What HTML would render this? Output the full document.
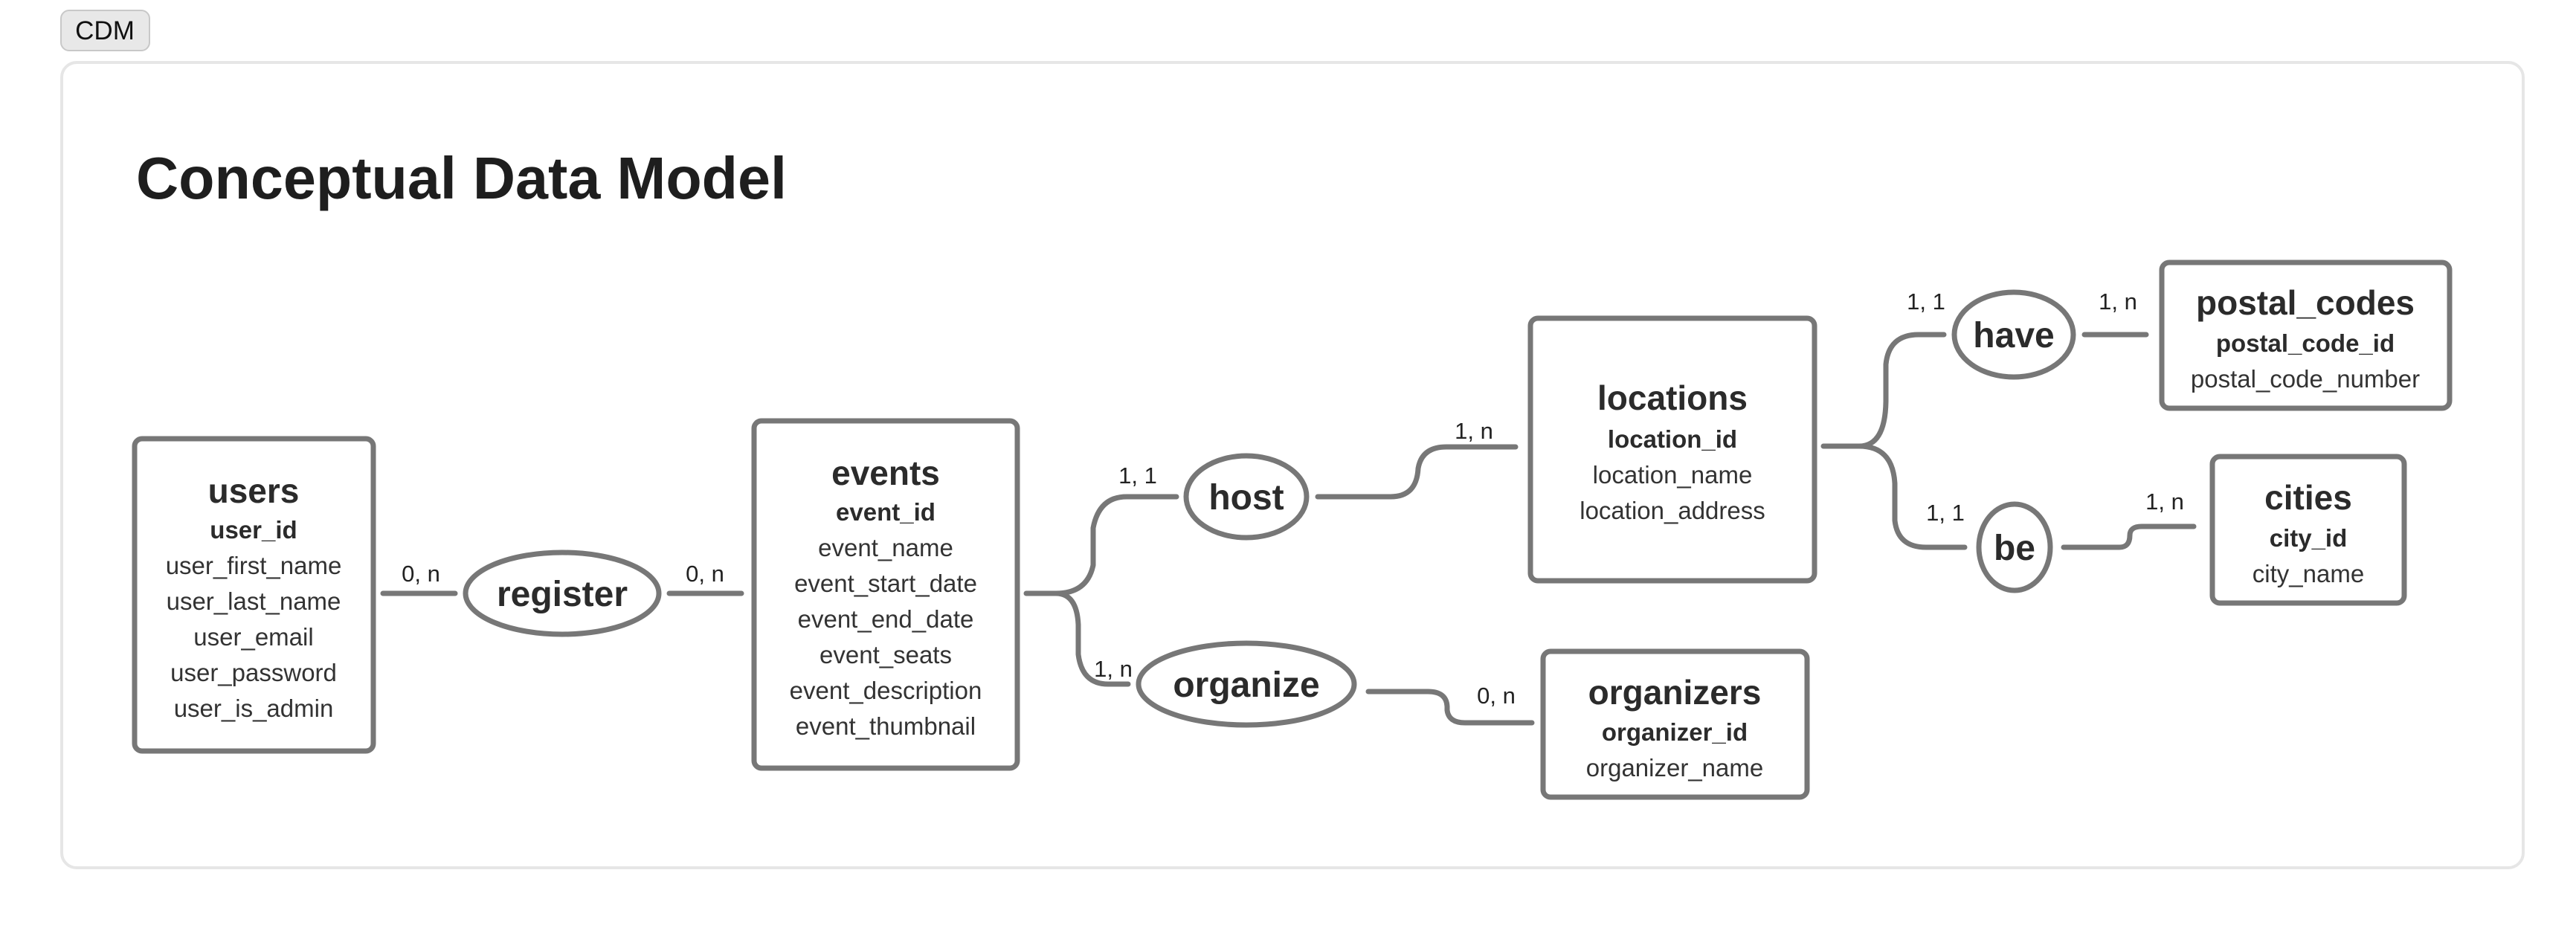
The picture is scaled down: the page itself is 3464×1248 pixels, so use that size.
<!DOCTYPE html>
<html><head><meta charset="utf-8"><style>
html,body{margin:0;padding:0;background:#fff;width:3464px;height:1248px;overflow:hidden}
svg{display:block}
text{font-family:"Liberation Sans",sans-serif;fill:#2b2b2b}
.t{font-weight:bold;font-size:46px}
.k{font-weight:bold;font-size:33px}
.a{font-size:33px;fill:#333}
.r{font-weight:bold;font-size:48px}
.c{font-size:31px;fill:#222}
.box{fill:#fff;stroke:#777;stroke-width:7}
.ln{fill:none;stroke:#777;stroke-width:7;stroke-linecap:round;stroke-linejoin:round}
</style></head><body>
<svg width="3464" height="1248" viewBox="0 0 3464 1248" xmlns="http://www.w3.org/2000/svg">
<rect x="82" y="14" width="119" height="54" rx="11" fill="#e8e8e8" stroke="#c8c8c8" stroke-width="2"/>
<text x="141" y="53" text-anchor="middle" style="font-size:35px;fill:#111">CDM</text>
<rect x="83" y="84" width="3310" height="1083" rx="20" fill="#fff" stroke="#e6e6e6" stroke-width="4"/>
<text x="183" y="267" textLength="875" lengthAdjust="spacingAndGlyphs" style="font-weight:bold;font-size:80px;fill:#1e1e1e">Conceptual Data Model</text>

<!-- connectors -->
<path class="ln" d="M515,798 H612"/>
<path class="ln" d="M900,798 H997"/>
<path class="ln" d="M1380,798 H1420 Q1462,798 1470,760 V710 Q1478,668 1515,668 H1582"/>
<path class="ln" d="M1420,798 Q1448,798 1450,840 V880 Q1455,920 1490,920 H1517"/>
<path class="ln" d="M1772,668 H1870 Q1905,668 1907,630 Q1912,601 1945,601 H2038"/>
<path class="ln" d="M1840,930 H1920 Q1945,930 1946,950 V955 Q1948,972 1970,972 H2060"/>
<path class="ln" d="M2452,600 H2500 Q2535,600 2536,540 V490 Q2540,450 2580,450 H2614"/>
<path class="ln" d="M2500,600 Q2545,600 2548,650 V700 Q2552,736 2590,736 H2642"/>
<path class="ln" d="M2803,450 H2886"/>
<path class="ln" d="M2775,736 H2850 Q2864,736 2864,720 Q2864,708 2880,708 H2950"/>

<!-- cardinalities -->
<text class="c" x="566" y="782" text-anchor="middle">0, n</text>
<text class="c" x="948" y="782" text-anchor="middle">0, n</text>
<text class="c" x="1530" y="650" text-anchor="middle">1, 1</text>
<text class="c" x="1497" y="910" text-anchor="middle">1, n</text>
<text class="c" x="1982" y="590" text-anchor="middle">1, n</text>
<text class="c" x="2012" y="946" text-anchor="middle">0, n</text>
<text class="c" x="2590" y="416" text-anchor="middle">1, 1</text>
<text class="c" x="2848" y="416" text-anchor="middle">1, n</text>
<text class="c" x="2616" y="700" text-anchor="middle">1, 1</text>
<text class="c" x="2911" y="685" text-anchor="middle">1, n</text>

<!-- relationships -->
<ellipse class="box" cx="756" cy="798" rx="130" ry="55"/>
<text class="r" x="756" y="815" text-anchor="middle">register</text>
<ellipse class="box" cx="1676" cy="668" rx="81" ry="55"/>
<text class="r" x="1676" y="685" text-anchor="middle">host</text>
<ellipse class="box" cx="1676" cy="920" rx="145" ry="55"/>
<text class="r" x="1676" y="937" text-anchor="middle">organize</text>
<ellipse class="box" cx="2708" cy="450" rx="80" ry="57"/>
<text class="r" x="2708" y="467" text-anchor="middle">have</text>
<ellipse class="box" cx="2709" cy="736" rx="48" ry="58"/>
<text class="r" x="2709" y="753" text-anchor="middle">be</text>

<!-- users -->
<rect class="box" x="181" y="590" width="321" height="420" rx="10"/>
<text class="t" x="341" y="676" text-anchor="middle">users</text>
<text class="k" x="341" y="724" text-anchor="middle">user_id</text>
<text class="a" x="341" y="772" text-anchor="middle">user_first_name</text>
<text class="a" x="341" y="820" text-anchor="middle">user_last_name</text>
<text class="a" x="341" y="868" text-anchor="middle">user_email</text>
<text class="a" x="341" y="916" text-anchor="middle">user_password</text>
<text class="a" x="341" y="964" text-anchor="middle">user_is_admin</text>

<!-- events -->
<rect class="box" x="1014" y="566" width="354" height="467" rx="10"/>
<text class="t" x="1191" y="652" text-anchor="middle">events</text>
<text class="k" x="1191" y="700" text-anchor="middle">event_id</text>
<text class="a" x="1191" y="748" text-anchor="middle">event_name</text>
<text class="a" x="1191" y="796" text-anchor="middle">event_start_date</text>
<text class="a" x="1191" y="844" text-anchor="middle">event_end_date</text>
<text class="a" x="1191" y="892" text-anchor="middle">event_seats</text>
<text class="a" x="1191" y="940" text-anchor="middle">event_description</text>
<text class="a" x="1191" y="988" text-anchor="middle">event_thumbnail</text>

<!-- locations -->
<rect class="box" x="2058" y="428" width="382" height="353" rx="10"/>
<text class="t" x="2249" y="551" text-anchor="middle">locations</text>
<text class="k" x="2249" y="602" text-anchor="middle">location_id</text>
<text class="a" x="2249" y="650" text-anchor="middle">location_name</text>
<text class="a" x="2249" y="698" text-anchor="middle">location_address</text>

<!-- organizers -->
<rect class="box" x="2075" y="876" width="355" height="196" rx="10"/>
<text class="t" x="2252" y="947" text-anchor="middle">organizers</text>
<text class="k" x="2252" y="996" text-anchor="middle">organizer_id</text>
<text class="a" x="2252" y="1044" text-anchor="middle">organizer_name</text>

<!-- postal_codes -->
<rect class="box" x="2907" y="353" width="387" height="196" rx="10"/>
<text class="t" x="3100" y="423" text-anchor="middle">postal_codes</text>
<text class="k" x="3100" y="473" text-anchor="middle">postal_code_id</text>
<text class="a" x="3100" y="521" text-anchor="middle">postal_code_number</text>

<!-- cities -->
<rect class="box" x="2975" y="614" width="258" height="197" rx="10"/>
<text class="t" x="3104" y="685" text-anchor="middle">cities</text>
<text class="k" x="3104" y="735" text-anchor="middle">city_id</text>
<text class="a" x="3104" y="783" text-anchor="middle">city_name</text>
</svg>
</body></html>
